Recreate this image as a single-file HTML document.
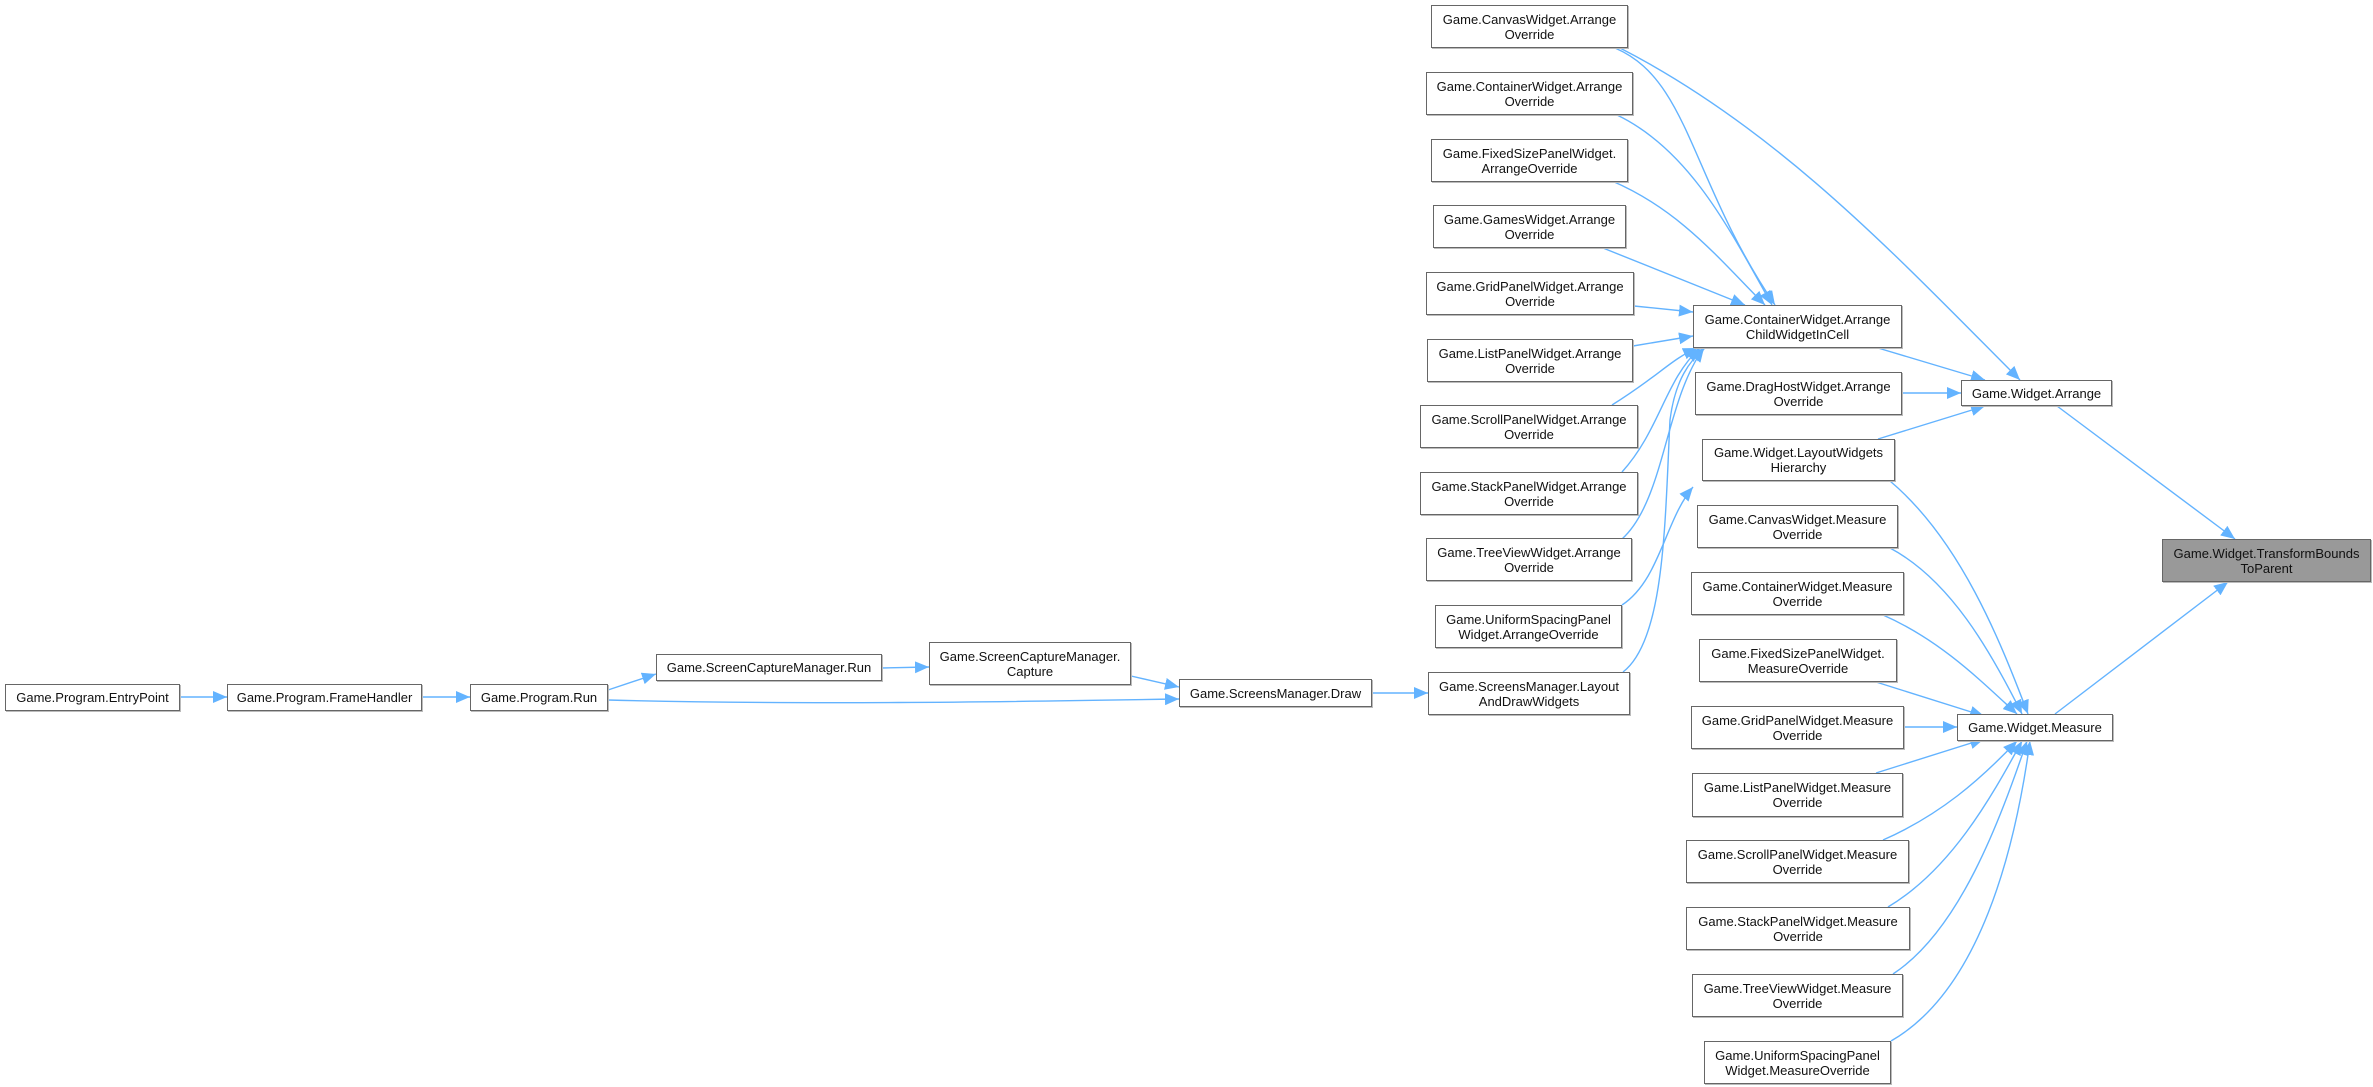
<!DOCTYPE html>
<html><head><meta charset="utf-8"><style>
body{margin:0;background:#fff;width:2373px;height:1087px;position:relative;overflow:hidden;font-family:"Liberation Sans",Arial,sans-serif}
.n{position:absolute;box-sizing:border-box;background:#fff;border:1px solid #666;box-shadow:1px 1px 0 #bbb;display:flex;align-items:center;justify-content:center;text-align:center;font-size:13px;line-height:15px;color:#111;white-space:nowrap}
.g{background:#999}
svg{position:absolute;left:0;top:0}
</style></head><body>
<svg width="2373" height="1087" viewBox="0 0 2373 1087">
<defs><marker id="a" markerUnits="userSpaceOnUse" markerWidth="16" markerHeight="12" refX="14" refY="6" orient="auto"><path d="M0,0 L14,6 L0,12 z" fill="#63b3ff"/></marker></defs>
<g fill="none" stroke="#63b3ff" stroke-width="1.4" marker-end="url(#a)">
<path d="M180,697 L227,697"/>
<path d="M422,697 L470,697"/>
<path d="M608,690 L656,674"/>
<path d="M608,700 C800,705 1000,702 1179,699"/>
<path d="M882,668 L929,667"/>
<path d="M1131,676 L1179,687"/>
<path d="M1372,693 L1428,693"/>
<path d="M1622,605 C1660,580 1665,520 1693,487"/>
<path d="M1623,672 C1665,640 1665,520 1670,420 C1675,380 1690,360 1705,348"/>
<path d="M1615,48 C1690,80 1690,180 1775,305"/>
<path d="M1620,48 C1780,130 1900,260 2020,380"/>
<path d="M1617,115 C1690,150 1730,230 1772,305"/>
<path d="M1612,181 C1680,210 1720,260 1765,305"/>
<path d="M1603,248 L1745,305"/>
<path d="M1634,306 L1693,312"/>
<path d="M1633,346 L1693,336"/>
<path d="M1612,405 C1660,375 1670,360 1697,348"/>
<path d="M1622,472 C1660,430 1665,380 1700,348"/>
<path d="M1622,539 C1665,500 1665,400 1704,348"/>
<path d="M1878,348 L1985,380"/>
<path d="M1902,393 L1961,393"/>
<path d="M1878,439 L1985,406"/>
<path d="M2057,406 L2235,539"/>
<path d="M2055,714 L2228,582"/>
<path d="M1890,481 C1960,540 2000,640 2028,714"/>
<path d="M1890,548 C1950,580 1990,650 2022,714"/>
<path d="M1883,615 C1940,640 1980,680 2017,714"/>
<path d="M1876,682 L1984,716"/>
<path d="M1904,727 L1957,727"/>
<path d="M1876,773 L1984,739"/>
<path d="M1883,840 C1940,815 1980,780 2017,741"/>
<path d="M1888,907 C1950,870 1990,800 2022,741"/>
<path d="M1893,974 C1960,930 2000,820 2027,741"/>
<path d="M1891,1041 C1980,990 2015,850 2030,741"/>
</g>
</svg>
<div class="n" style="left:5px;top:684px;width:175px;height:27px">Game.Program.EntryPoint</div>
<div class="n" style="left:227px;top:684px;width:195px;height:27px">Game.Program.FrameHandler</div>
<div class="n" style="left:470px;top:684px;width:138px;height:27px">Game.Program.Run</div>
<div class="n" style="left:656px;top:654px;width:226px;height:27px">Game.ScreenCaptureManager.Run</div>
<div class="n" style="left:929px;top:642px;width:202px;height:43px">Game.ScreenCaptureManager.<br>Capture</div>
<div class="n" style="left:1179px;top:679px;width:193px;height:28px">Game.ScreensManager.Draw</div>
<div class="n" style="left:1431px;top:5px;width:197px;height:43px">Game.CanvasWidget.Arrange<br>Override</div>
<div class="n" style="left:1426px;top:72px;width:207px;height:43px">Game.ContainerWidget.Arrange<br>Override</div>
<div class="n" style="left:1431px;top:139px;width:197px;height:43px">Game.FixedSizePanelWidget.<br>ArrangeOverride</div>
<div class="n" style="left:1433px;top:205px;width:193px;height:43px">Game.GamesWidget.Arrange<br>Override</div>
<div class="n" style="left:1426px;top:272px;width:208px;height:43px">Game.GridPanelWidget.Arrange<br>Override</div>
<div class="n" style="left:1427px;top:339px;width:206px;height:43px">Game.ListPanelWidget.Arrange<br>Override</div>
<div class="n" style="left:1420px;top:405px;width:218px;height:43px">Game.ScrollPanelWidget.Arrange<br>Override</div>
<div class="n" style="left:1420px;top:472px;width:218px;height:43px">Game.StackPanelWidget.Arrange<br>Override</div>
<div class="n" style="left:1426px;top:538px;width:206px;height:43px">Game.TreeViewWidget.Arrange<br>Override</div>
<div class="n" style="left:1435px;top:605px;width:187px;height:43px">Game.UniformSpacingPanel<br>Widget.ArrangeOverride</div>
<div class="n" style="left:1428px;top:672px;width:202px;height:43px">Game.ScreensManager.Layout<br>AndDrawWidgets</div>
<div class="n" style="left:1693px;top:305px;width:209px;height:43px">Game.ContainerWidget.Arrange<br>ChildWidgetInCell</div>
<div class="n" style="left:1695px;top:372px;width:207px;height:43px">Game.DragHostWidget.Arrange<br>Override</div>
<div class="n" style="left:1702px;top:439px;width:193px;height:42px">Game.Widget.LayoutWidgets<br>Hierarchy</div>
<div class="n" style="left:1697px;top:505px;width:201px;height:43px">Game.CanvasWidget.Measure<br>Override</div>
<div class="n" style="left:1691px;top:572px;width:213px;height:43px">Game.ContainerWidget.Measure<br>Override</div>
<div class="n" style="left:1699px;top:639px;width:198px;height:43px">Game.FixedSizePanelWidget.<br>MeasureOverride</div>
<div class="n" style="left:1691px;top:706px;width:213px;height:43px">Game.GridPanelWidget.Measure<br>Override</div>
<div class="n" style="left:1692px;top:773px;width:211px;height:44px">Game.ListPanelWidget.Measure<br>Override</div>
<div class="n" style="left:1686px;top:840px;width:223px;height:43px">Game.ScrollPanelWidget.Measure<br>Override</div>
<div class="n" style="left:1686px;top:907px;width:224px;height:43px">Game.StackPanelWidget.Measure<br>Override</div>
<div class="n" style="left:1692px;top:974px;width:211px;height:43px">Game.TreeViewWidget.Measure<br>Override</div>
<div class="n" style="left:1704px;top:1041px;width:187px;height:43px">Game.UniformSpacingPanel<br>Widget.MeasureOverride</div>
<div class="n" style="left:1961px;top:380px;width:151px;height:26px">Game.Widget.Arrange</div>
<div class="n" style="left:1957px;top:714px;width:156px;height:27px">Game.Widget.Measure</div>
<div class="n g" style="left:2162px;top:539px;width:209px;height:43px">Game.Widget.TransformBounds<br>ToParent</div>
</body></html>
